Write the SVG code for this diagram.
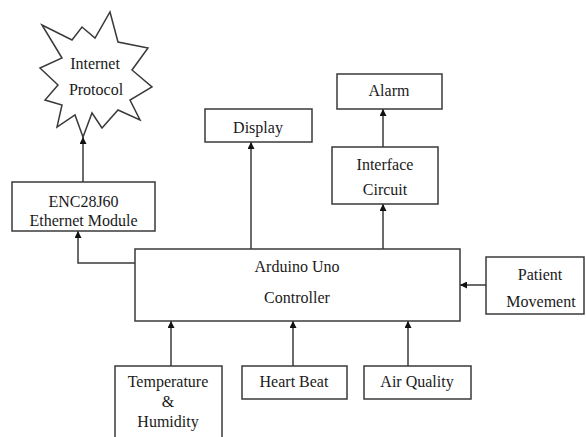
<svg xmlns="http://www.w3.org/2000/svg" width="586" height="437" viewBox="0 0 586 437">
<style>
.box{fill:#fff;stroke:#3a3a3a;stroke-width:1.5}
.t{font-family:"Liberation Serif","Times New Roman",serif;font-size:16px;fill:#1a1a1a;text-anchor:middle}
.c{fill:none;stroke:#3a3a3a;stroke-width:1.5;marker-end:url(#ah)}
</style>
<defs>
<marker id="ah" viewBox="0 0 10 10" refX="10" refY="5" markerWidth="7" markerHeight="7" markerUnits="userSpaceOnUse" orient="auto">
<path d="M0,0 L10,5 L0,10 z" fill="#111"/>
</marker>
</defs>
<rect width="586" height="437" fill="#fff"/>
<g id="connectors">
<line class="c" x1="83" y1="182" x2="83" y2="137"/>
<polyline class="c" points="135,263 78,263 78,231"/>
<line class="c" x1="251" y1="249" x2="251" y2="142"/>
<line class="c" x1="383" y1="249" x2="383" y2="204"/>
<line class="c" x1="383" y1="147" x2="383" y2="109"/>
<line class="c" x1="486" y1="285" x2="460" y2="285"/>
<line class="c" x1="171" y1="366" x2="171" y2="321"/>
<line class="c" x1="293" y1="366" x2="293" y2="321"/>
<line class="c" x1="408" y1="366" x2="408" y2="321"/>
</g>
<g id="internet">
<polygon class="box" points="42,25 72,40 82,27 95,38 110,12 118,42 148,48 132,70 152,87 130,100 140,120 118,110 102,128 92,113 83,137 75,115 57,127 62,105 45,100 58,85 40,68 62,58"/>
<text class="t" x="95" y="69">Internet</text>
<text class="t" x="96" y="95">Protocol</text>
</g>
<g id="enc">
<rect class="box" x="12" y="182" width="143" height="49"/>
<text class="t" x="83.5" y="207">ENC28J60</text>
<text class="t" x="83.5" y="226">Ethernet Module</text>
</g>
<g id="display">
<rect class="box" x="205" y="109" width="107" height="33"/>
<text class="t" x="258" y="133">Display</text>
</g>
<g id="alarm">
<rect class="box" x="337" y="74" width="105" height="35"/>
<text class="t" x="389" y="96">Alarm</text>
</g>
<g id="interface">
<rect class="box" x="332" y="147" width="106" height="57"/>
<text class="t" x="385" y="170">Interface</text>
<text class="t" x="385" y="195">Circuit</text>
</g>
<g id="arduino">
<rect class="box" x="135" y="249" width="325" height="72"/>
<text class="t" x="297" y="272">Arduino Uno</text>
<text class="t" x="297" y="303">Controller</text>
</g>
<g id="patient">
<rect class="box" x="486" y="257" width="98" height="57"/>
<text class="t" x="540" y="280">Patient</text>
<text class="t" x="541" y="307">Movement</text>
</g>
<g id="temperature">
<rect class="box" x="115" y="366" width="107" height="80"/>
<text class="t" x="168" y="387">Temperature</text>
<text class="t" x="168" y="407">&amp;</text>
<text class="t" x="168" y="427">Humidity</text>
</g>
<g id="heartbeat">
<rect class="box" x="242" y="366" width="105" height="33"/>
<text class="t" x="294" y="387">Heart Beat</text>
</g>
<g id="airquality">
<rect class="box" x="364" y="366" width="107" height="33"/>
<text class="t" x="417" y="387">Air Quality</text>
</g>
</svg>
